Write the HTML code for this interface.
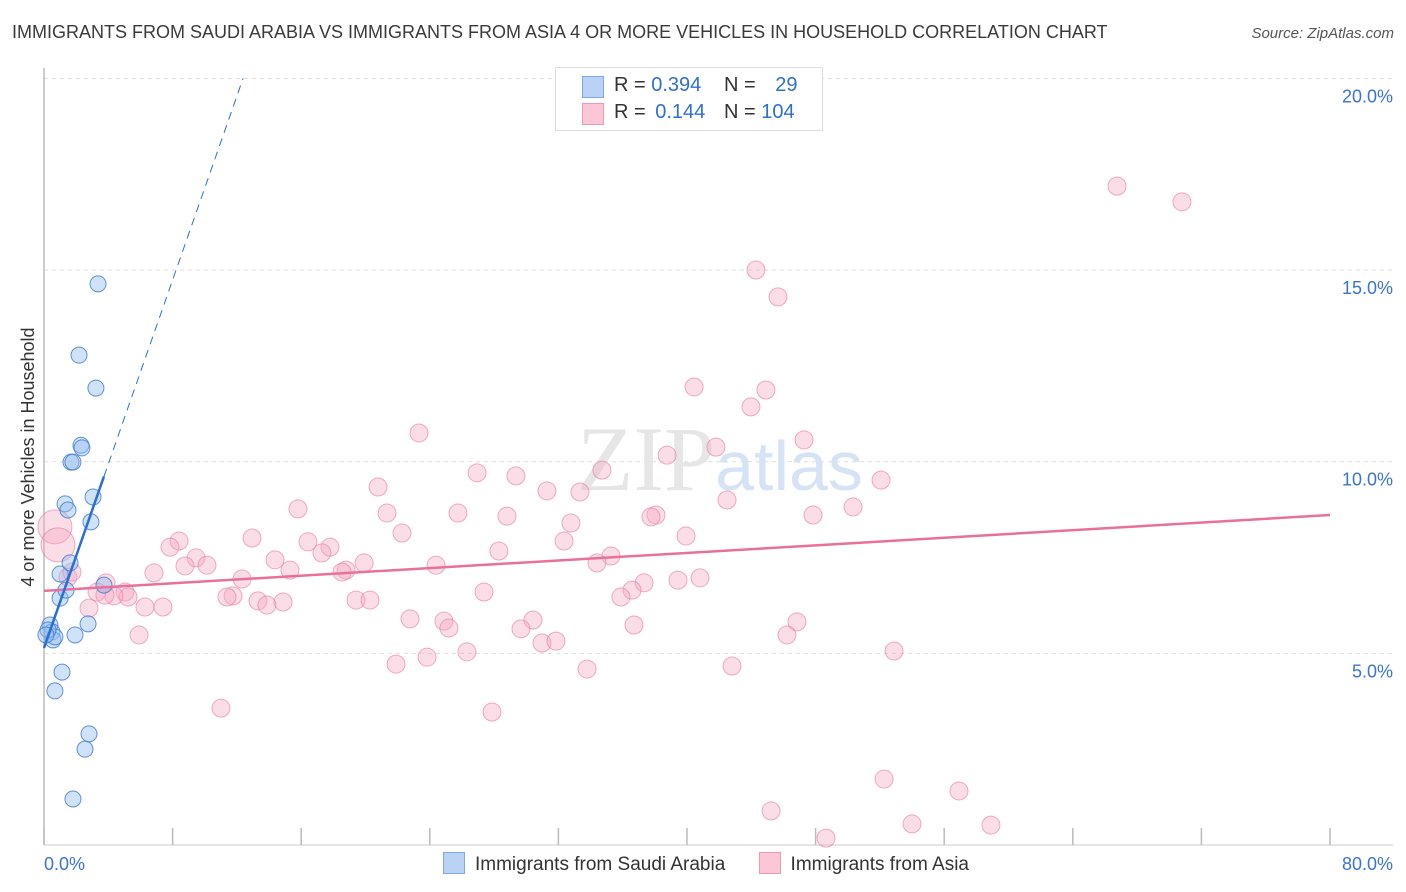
<!DOCTYPE html>
<html><head><meta charset="utf-8">
<style>
body{margin:0;background:#fff;font-family:"Liberation Sans",sans-serif;}
#wrap{position:relative;width:1406px;height:892px;overflow:hidden;}
.t{position:absolute;white-space:nowrap;}
</style></head>
<body>
<div id="wrap">
<div class="t" style="left:12px;top:22px;font-size:18px;color:#3a3a3a;">IMMIGRANTS FROM SAUDI ARABIA VS IMMIGRANTS FROM ASIA 4 OR MORE VEHICLES IN HOUSEHOLD CORRELATION CHART</div>
<div class="t" style="right:12px;top:25px;font-size:15px;color:#555;font-style:italic;">Source: ZipAtlas.com</div>
<svg id="plot" width="1406" height="892" style="position:absolute;left:0;top:0;"></svg>
</div>
<script>
const xTicks=[0,80];
const yTicks=[5,10,15,20];
const blueX=[3.36,2.18,3.23,2.30,2.36,1.68,1.80,1.31,1.49,3.05,2.92,1.0,1.62,1.0,1.37,3.73,2.74,1.93,0.37,0.50,0.56,0.68,0.25,1.12,0.68,2.80,2.55,1.80,0.12];
const blueY=[14.64,12.78,11.92,10.43,10.36,9.99,9.99,8.90,8.74,9.08,8.43,7.07,7.36,6.44,6.65,6.78,5.77,5.48,5.74,5.56,5.35,5.43,5.61,4.51,4.02,2.90,2.50,1.20,5.48];
const pinkX=[66.75,70.79,44.29,45.66,40.44,44.91,43.98,23.33,47.28,41.80,38.76,26.94,34.71,29.36,52.07,20.78,31.29,33.34,42.49,25.75,15.80,21.34,28.80,50.33,38.07,37.76,47.84,32.78,22.27,39.94,12.94,8.40,7.84,16.42,32.35,17.79,28.30,17.29,35.27,9.46,14.37,19.91,8.77,10.14,34.40,15.30,24.39,18.79,18.54,6.84,12.32,40.81,39.44,37.33,3.86,5.04,36.58,11.76,11.38,27.37,35.89,5.23,4.35,19.41,20.28,13.31,14.87,13.87,6.28,7.40,22.77,30.42,24.88,25.19,36.70,46.84,29.67,5.91,46.22,30.98,31.85,52.88,26.31,23.83,21.90,33.78,42.80,11.01,27.87,52.26,56.92,45.23,54.00,58.91,48.65,0.68,0.87,1.49,1.74,3.30,2.80,3.79];
const pinkY=[17.19,16.78,15.00,14.30,11.95,11.87,11.43,10.75,10.57,10.38,10.17,9.71,9.78,9.63,9.52,9.34,9.24,9.21,9.00,8.66,8.77,8.66,8.58,8.82,8.61,8.56,8.61,8.40,8.14,8.06,8.01,7.93,7.77,7.91,7.93,7.77,7.67,7.62,7.54,7.49,7.44,7.36,7.28,7.30,7.36,7.17,7.30,7.17,7.12,7.10,6.94,6.97,6.91,6.84,6.84,6.60,6.65,6.50,6.47,6.60,6.47,6.47,6.50,6.39,6.39,6.37,6.34,6.26,6.21,6.21,5.90,5.87,5.84,5.66,5.74,5.82,5.64,5.48,5.48,5.27,5.32,5.06,5.04,4.90,4.72,4.59,4.67,3.57,3.47,1.72,1.41,0.89,0.55,0.52,0.18,8.30,7.83,6.99,7.12,6.60,6.18,6.52];
const bigPink=[95,96];
const blueFit=[5.14,1.2];
const pinkFit=[6.63,8.61];
const NS="http://www.w3.org/2000/svg";
const svg=document.getElementById('plot');
const X0=44,X1=1330,Y0=845,PY=38.33;
const sx=v=>X0+(v-0)/(80-0)*(X1-X0);
const sy=v=>Y0-v*PY;
function mk(tag,attrs){const e=document.createElementNS(NS,tag);for(const k in attrs)e.setAttribute(k,attrs[k]);svg.appendChild(e);return e;}
// gridlines
yTicks.forEach(t=>{
 const g=mk('line',{x1:X0,x2:1395,y1:sy(t),y2:sy(t),stroke:'#dddddd','stroke-dasharray':'4,4'});
 
 
 const l=mk('text',{x:1393,y:sy(t)+24,'text-anchor':'end','font-size':'18',fill:'#3b73d1'});
 l.textContent=t.toFixed(1)+'%';
 
 
});
// axes
const ya=mk('line',{x1:X0,x2:X0,y1:68,y2:Y0,stroke:'#bbb','stroke-width':1.5});


const xa=mk('line',{x1:X0,x2:1393,y1:Y0,y2:Y0,stroke:'#ccc'});


for(let i=0;i<=10;i++){
 const tk=mk('line',{x1:sx(i*8),x2:sx(i*8),y1:828,y2:Y0,stroke:'#bbb','stroke-width':1.5});
 
 
}
xTicks.forEach((t,i)=>{
 const l=mk('text',{x:i==0?44:1393,y:870,'text-anchor':i==0?'start':'end','font-size':'18',fill:'#3b73d1'});
 l.textContent=t.toFixed(1)+'%';
 
 
});
// watermark
const wm=mk('text',{x:720,y:490,'text-anchor':'middle','font-size':'92','font-family':'Liberation Serif,serif',fill:'#e6e6e6'});
wm.innerHTML='ZIP<tspan fill="#d6e3f5" font-family="Liberation Sans,sans-serif" font-size="70">atlas</tspan>';


// y title
const yt=mk('text',{x:0,y:0,transform:'translate(34,457) rotate(-90)','text-anchor':'middle','font-size':'18',fill:'#333'});
yt.textContent='4 or more Vehicles in Household';


// pink points
pinkX.forEach((x,i)=>{
 const big=bigPink.includes(i);
 const c=mk('circle',{cx:sx(x),cy:sy(pinkY[i]),r:big?17:9,fill:'rgba(246,170,195,0.4)',stroke:'rgba(232,120,160,0.6)','stroke-width':1});
 
 
});
blueX.forEach((x,i)=>{
 const c=mk('circle',{cx:sx(x),cy:sy(blueY[i]),r:8,fill:'rgba(150,190,240,0.45)',stroke:'rgba(60,120,210,0.8)','stroke-width':1});
 
 
});
// trend lines
const pl=mk('line',{x1:sx(0),y1:sy(pinkFit[0]),x2:sx(80),y2:sy(pinkFit[1]),stroke:'#e8709a','stroke-width':2.5});


const bEnd=blueX.reduce((a,b)=>Math.max(a,b));
const bl=mk('line',{x1:sx(0),y1:sy(blueFit[0]),x2:sx(bEnd),y2:sy(blueFit[0]+blueFit[1]*bEnd),stroke:'#2a6fd6','stroke-width':2.5});


const xd=(20-blueFit[0])/blueFit[1];
const bd=mk('line',{x1:sx(bEnd),y1:sy(blueFit[0]+blueFit[1]*bEnd),x2:sx(xd),y2:sy(20),stroke:'#2a6fd6','stroke-width':1,'stroke-dasharray':'8,6'});


</script>
<div class="t" style="left:555px;top:67px;width:266px;height:62px;border:1px solid #ddd;background:#fff;font-size:20px;">
 <div style="position:absolute;left:26px;top:8px;width:20px;height:20px;background:#b9d2f5;border:1px solid #7fa8e6;"></div>
 <div style="position:absolute;left:58px;top:6px;color:#333;">R = <span style="color:#2f6fd0">0.394</span></div>
 <div style="position:absolute;left:168px;top:6px;color:#333;">N = <span style="color:#2f6fd0;margin-left:14px">29</span></div>
 <div style="position:absolute;left:26px;top:35px;width:20px;height:20px;background:#fbc6d6;border:1px solid #ee9ab7;"></div>
 <div style="position:absolute;left:58px;top:33px;color:#333;">R = <span style="color:#2f6fd0;margin-left:4px">0.144</span></div>
 <div style="position:absolute;left:168px;top:33px;color:#333;">N = <span style="color:#2f6fd0">104</span></div>
</div>
<div class="t" style="left:443px;top:852px;font-size:19px;color:#333;">
 <span><span style="display:inline-block;width:20px;height:20px;background:#b9d2f5;border:1px solid #7fa8e6;vertical-align:-4px;margin-right:10px"></span>Immigrants from Saudi Arabia</span>
 <span style="margin-left:28px"><span style="display:inline-block;width:20px;height:20px;background:#fbc6d6;border:1px solid #ee9ab7;vertical-align:-4px;margin-right:10px"></span>Immigrants from Asia</span>
</div>
</body></html>
